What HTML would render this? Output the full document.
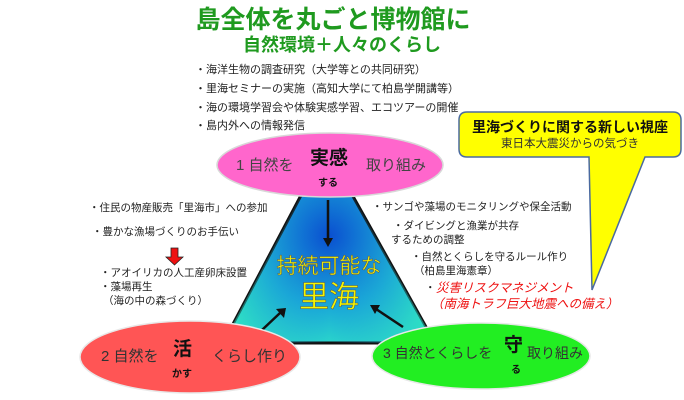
<!DOCTYPE html>
<html><head><meta charset="utf-8"><style>
html,body{margin:0;padding:0;background:#fff;}
svg{display:block;}
text{font-family:"Liberation Sans","Noto Sans CJK JP",sans-serif;}
</style></head><body>
<svg width="684" height="400" viewBox="0 0 684 400" xmlns="http://www.w3.org/2000/svg">
<defs>
<radialGradient id="tg" cx="0.5" cy="0.45" r="0.6">
<stop offset="0" stop-color="#0a4fd0"/><stop offset="0.6" stop-color="#1aa9d8"/><stop offset="1" stop-color="#2ee0c8"/>
</radialGradient>
<linearGradient id="tg2" x1="0" y1="0" x2="1" y2="0">
<stop offset="0" stop-color="#30e8c0" stop-opacity="0.6"/><stop offset="0.5" stop-color="#1070e0" stop-opacity="0"/><stop offset="1" stop-color="#30e8c0" stop-opacity="0.6"/>
</linearGradient>
</defs>
<text x="333" y="28" font-size="25" font-weight="bold" fill="#1f9a1f" text-anchor="middle">島全体を丸ごと博物館に</text>
<text x="342" y="51" font-size="18" font-weight="bold" fill="#1f9a1f" text-anchor="middle">自然環境＋人々のくらし</text>
<g font-size="11" fill="#222">
<text x="195" y="73">・海洋生物の調査研究（大学等との共同研究）</text>
<text x="195" y="92">・里海セミナーの実施（高知大学にて柏島学開講等）</text>
<text x="195" y="111">・海の環境学習会や体験実感学習、エコツアーの開催</text>
<text x="195" y="129">・島内外への情報発信</text>
</g>
<!-- callout -->
<path d="M467,112 H673 Q681,112 681,120 V149 Q681,157 673,157 H645 L592,290 L589,157 H467 Q459,157 459,149 V120 Q459,112 467,112 Z" fill="#ffff00" stroke="#4a6aa0" stroke-width="1.5"/>
<text x="570" y="132" font-size="14" font-weight="bold" fill="#111" text-anchor="middle">里海づくりに関する新しい視座</text>
<text x="570" y="147" font-size="11.5" fill="#333" text-anchor="middle">東日本大震災からの気づき</text>
<!-- triangle -->
<polygon points="326,148 223,343 435,343" fill="url(#tg)" stroke="#111" stroke-width="3"/>
<polygon points="326,148 223,343 435,343" fill="url(#tg2)"/>
<g stroke="#111" stroke-width="2.5" fill="#111">
<line x1="328" y1="200" x2="328" y2="240"/><polygon points="323,238 333,238 328,247" stroke="none"/>
<line x1="262" y1="330" x2="280" y2="313"/><polygon points="276,309 286,308 284,318" stroke="none"/>
<line x1="403" y1="327" x2="376" y2="309"/><polygon points="380,305 370,305 375,314" stroke="none"/>
</g>
<text x="329" y="273" font-size="21" fill="#f5f500" stroke="#555" stroke-width="0.5" text-anchor="middle">持続可能な</text>
<text x="329" y="307" font-size="30" fill="#f5f500" stroke="#555" stroke-width="0.5" text-anchor="middle">里海</text>
<!-- ellipses -->
<ellipse cx="330" cy="165" rx="113" ry="32" fill="#ff66cc" stroke="#d8d8d8" stroke-width="1.5"/>
<text x="236" y="170" font-size="15" fill="#444">1 自然を</text>
<text x="310" y="164" font-size="19" font-weight="bold" fill="#111">実感</text>
<text x="318" y="186" font-size="10" font-weight="bold" fill="#111">する</text>
<text x="366" y="170" font-size="15" fill="#444">取り組み</text>
<ellipse cx="190" cy="357" rx="110" ry="36" fill="#ff5555" stroke="#e8e8e8" stroke-width="1.5"/>
<text x="101" y="361" font-size="15" fill="#333">2 自然を</text>
<text x="173" y="355" font-size="19" font-weight="bold" fill="#111">活</text>
<text x="172" y="377" font-size="10" font-weight="bold" fill="#111">かす</text>
<text x="212" y="361" font-size="15" fill="#333">くらし作り</text>
<ellipse cx="481" cy="356" rx="109" ry="33" fill="#22ee22" stroke="#e8e8e8" stroke-width="1.5"/>
<text x="383" y="358" font-size="14" fill="#333">3 自然とくらしを</text>
<text x="504" y="351" font-size="19" font-weight="bold" fill="#111">守</text>
<text x="511" y="373" font-size="10" font-weight="bold" fill="#111">る</text>
<text x="527" y="358" font-size="14" fill="#333">取り組み</text>
<!-- left texts -->
<g font-size="10.5" fill="#222">
<text x="89" y="211">・住民の物産販売「里海市」への参加</text>
<text x="92" y="235">・豊かな漁場づくりのお手伝い</text>
<text x="100" y="276">・アオイリカの人工産卵床設置</text>
<text x="100" y="290">・藻場再生</text>
<text x="103" y="304">（海の中の森づくり）</text>
</g>
<polygon points="171,248 178,248 178,257 183,257 174.5,265 166,257 171,257" fill="#ee1111" stroke="#222" stroke-width="0.8"/>
<!-- right texts -->
<g font-size="10.5" fill="#222">
<text x="372" y="210">・サンゴや藻場のモニタリングや保全活動</text>
<text x="393" y="229">・ダイビングと漁業が共存</text>
<text x="391" y="243">するための調整</text>
<text x="411" y="260">・自然とくらしを守るルール作り</text>
<text x="414" y="274">（柏島里海憲章）</text>
<text x="425" y="291">・</text>
</g>
<g font-size="12.5" font-style="italic" fill="#ee1111">
<text x="436" y="292">災害リスクマネジメント</text>
<text x="431" y="308">（南海トラフ巨大地震への備え）</text>
</g>
</svg>
</body></html>
